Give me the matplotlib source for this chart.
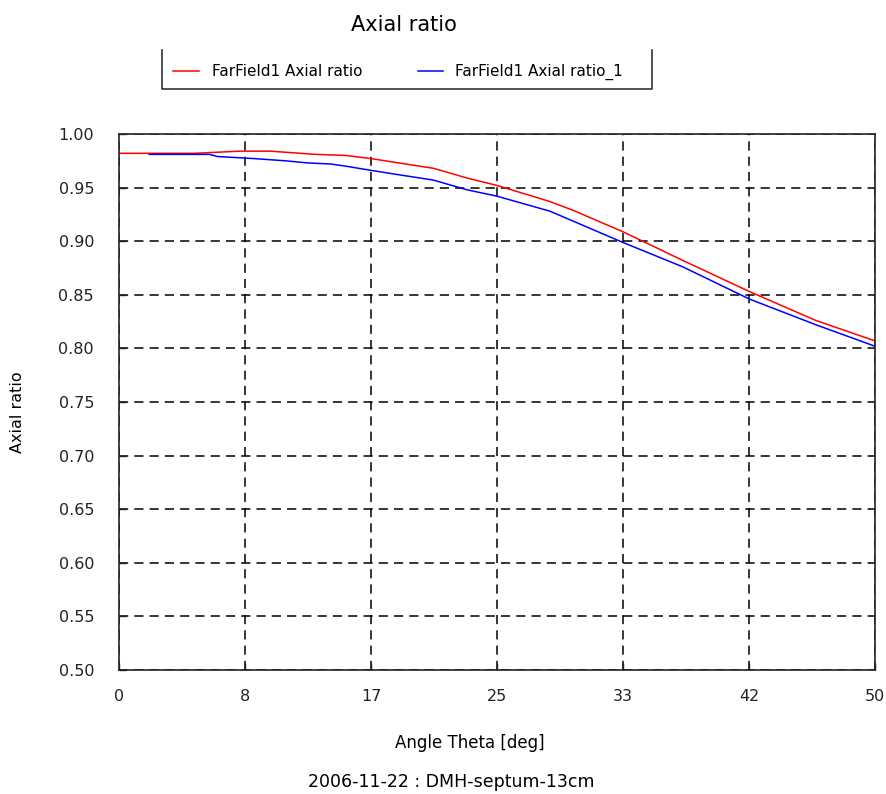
import matplotlib
matplotlib.use("Agg")
import matplotlib.pyplot as plt
from matplotlib.lines import Line2D

# values
theta_red = [0, 5, 8, 10, 13, 15, 16.7, 18.5, 20.8, 23, 25, 28.5, 30, 33.3, 37.3, 41.7, 46.1, 50]
ar_red = [0.982, 0.982, 0.984, 0.984, 0.981, 0.980, 0.977, 0.973, 0.968, 0.959, 0.952,
          0.937, 0.929, 0.909, 0.882, 0.853, 0.826, 0.807]
theta_blue = [2, 6, 6.5, 9, 11, 12.5, 14, 15, 16.7, 18.5, 20.8, 23, 25, 28.5, 33.3, 37.3, 41.7, 46.1, 50]
ar_blue = [0.981, 0.981, 0.979, 0.977, 0.975, 0.973, 0.972, 0.970, 0.966, 0.962, 0.957,
           0.948, 0.942, 0.928, 0.899, 0.876, 0.846, 0.822, 0.802]
x_ticks = [0, 50 / 6, 100 / 6, 25, 200 / 6, 250 / 6, 50]
x_labels = ["0", "8", "17", "25", "33", "42", "50"]
y_ticks = [0.50, 0.55, 0.60, 0.65, 0.70, 0.75, 0.80, 0.85, 0.90, 0.95, 1.00]

plt.rcParams["font.family"] = "DejaVu Sans"

fig = plt.figure(figsize=(8.87, 7.94), dpi=100)
ax = fig.add_axes([119 / 887, 124 / 794, 756 / 887, 536 / 794])

ax.plot(theta_red, ar_red, color="#ff0000", lw=1.1)
ax.plot(theta_blue, ar_blue, color="#0000ff", lw=1.1)

ax.set_xlim(0, 50)
ax.set_ylim(0.5, 1.0)
ax.set_xticks(x_ticks)
ax.set_xticklabels(x_labels)
ax.set_yticks(y_ticks)
ax.set_yticklabels(["%.2f" % v for v in y_ticks])
ax.tick_params(direction="in", length=5, width=1, labelsize=11.5, colors="#222222")
ax.tick_params(axis="x", pad=14)
ax.tick_params(axis="y", pad=18)
ax.grid(True, color="black", linestyle=(0, (6, 4)), linewidth=1.1)
for s in ax.spines.values():
    s.set_linewidth(1.2)
    s.set_color("#222222")

fig.text(404 / 887, 1 - 25 / 794, "Axial ratio", ha="center", va="center", fontsize=15)
fig.text(470 / 887, 1 - 743 / 794, "Angle Theta [deg]", ha="center", va="center", fontsize=12)
fig.text(451 / 887, 1 - 782 / 794, "2006-11-22 : DMH-septum-13cm", ha="center", va="center", fontsize=12.5)
fig.text(18 / 887, 1 - 412 / 794, "Axial ratio", ha="center", va="center", rotation=90, fontsize=11.5)

# legend box (open on top like the reference)
W, H = 887, 794
fx = lambda px: px / W
fy = lambda py: 1 - py / H
fig.lines.append(Line2D([fx(162), fx(162), fx(652), fx(652)],
                        [fy(50), fy(89), fy(89), fy(50)],
                        transform=fig.transFigure, color="#333333", lw=1.2))
fig.lines.append(Line2D([fx(173), fx(199)], [fy(71), fy(71)],
                        transform=fig.transFigure, color="#ff0000", lw=1.1))
fig.lines.append(Line2D([fx(418), fx(443)], [fy(71), fy(71)],
                        transform=fig.transFigure, color="#0000ff", lw=1.1))
fig.text(fx(212), fy(72), "FarField1 Axial ratio", ha="left", va="center", fontsize=11)
fig.text(fx(455), fy(72), "FarField1 Axial ratio_1", ha="left", va="center", fontsize=11)

fig.savefig("out.png", dpi=100)
